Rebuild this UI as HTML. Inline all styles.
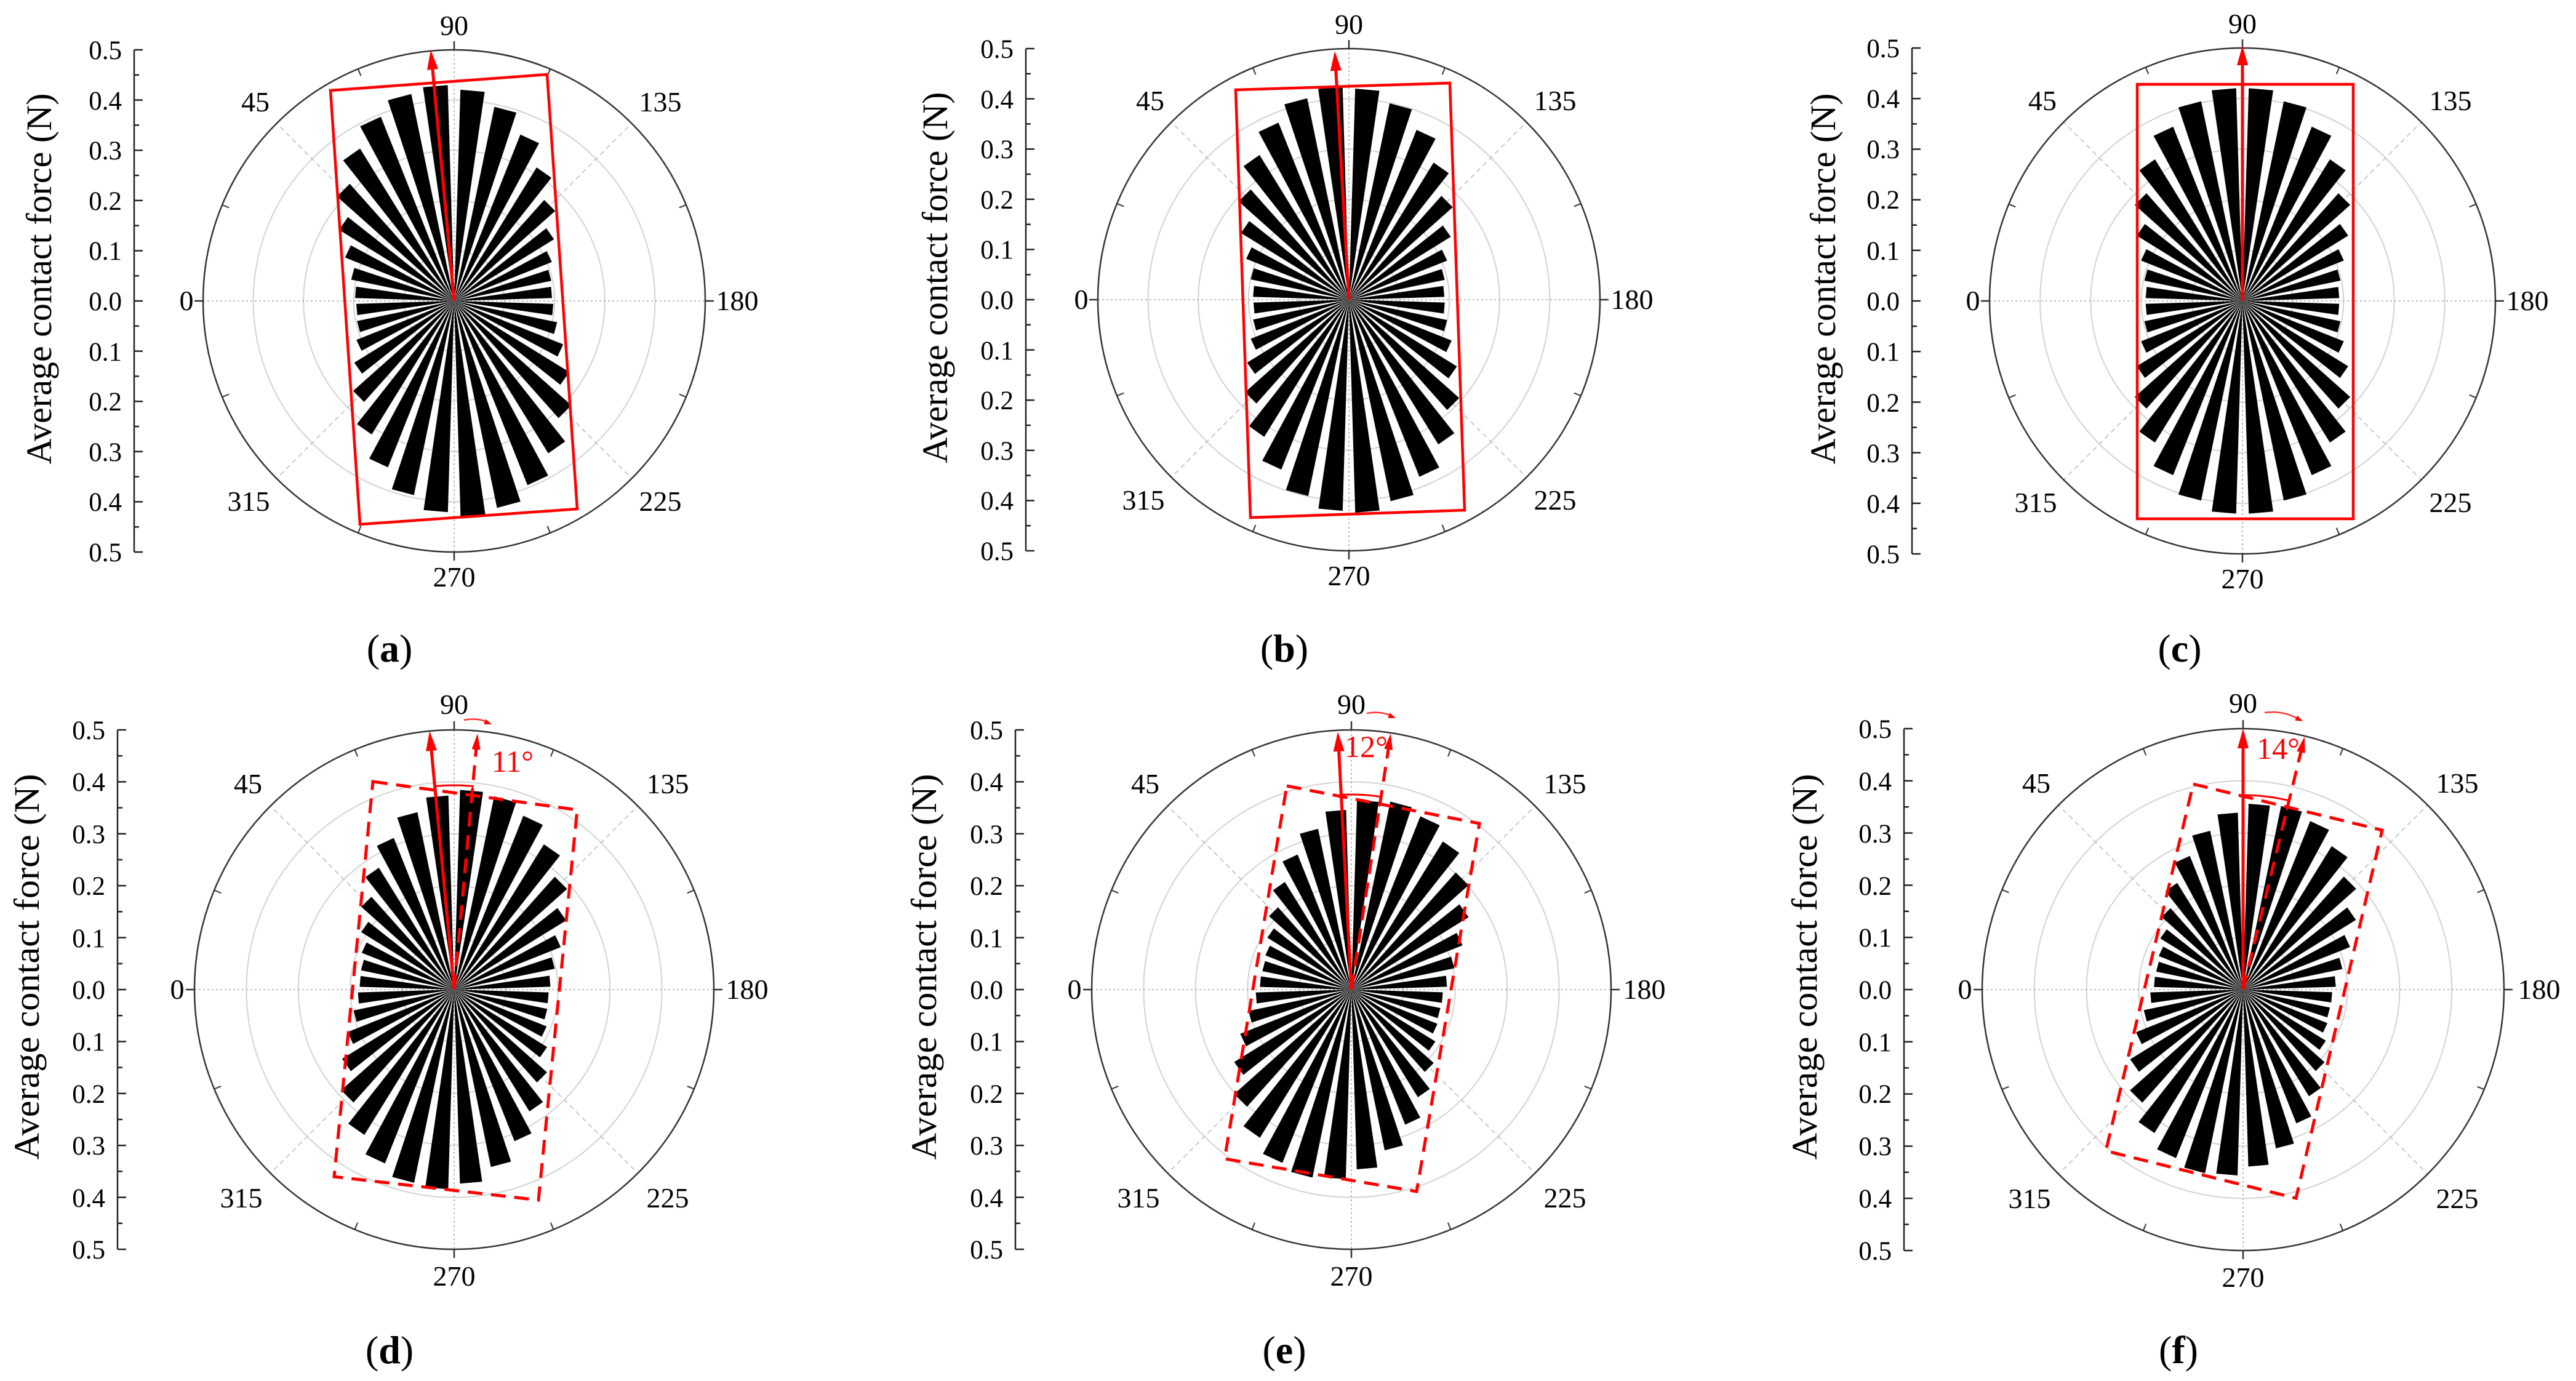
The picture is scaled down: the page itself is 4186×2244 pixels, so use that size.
<!DOCTYPE html>
<html><head><meta charset="utf-8"><style>
html,body{margin:0;padding:0;background:#fff;}
svg{display:block;}
svg text{font-family:"Liberation Serif","DejaVu Serif",serif;fill:#000;}
.t{font-size:43px;text-anchor:end;}
.g{font-size:46px;text-anchor:middle;}
.y{font-size:58px;text-anchor:middle;}
.p{font-size:64px;text-anchor:middle;}
svg text.r{font-size:50px;fill:#f00;}
</style></head><body>
<svg id="s" width="4186" height="2244" viewBox="0 0 4186 2244" xmlns="http://www.w3.org/2000/svg" font-family="Liberation Serif, DejaVu Serif, serif">
<rect width="4186" height="2244" fill="#fff"/>
<g id="shapes"></g>

<!-- Panel a -->
<g transform="translate(738,489)">
<text class="t" x="-540" y="-393">0.5</text><text class="t" x="-540" y="-311">0.4</text><text class="t" x="-540" y="-230">0.3</text><text class="t" x="-540" y="-148">0.2</text><text class="t" x="-540" y="-67">0.1</text><text class="t" x="-540" y="15">0.0</text><text class="t" x="-540" y="97">0.1</text><text class="t" x="-540" y="178">0.2</text><text class="t" x="-540" y="260">0.3</text><text class="t" x="-540" y="341">0.4</text><text class="t" x="-540" y="423">0.5</text>
<text class="y" transform="translate(-655,-36) rotate(-90)" textLength="603" lengthAdjust="spacingAndGlyphs">Average contact force (N)</text>
<text class="g" x="0" y="-432">90</text><text class="g" x="-323" y="-308">45</text><text class="g" x="335" y="-308">135</text><text class="g" x="-435" y="15">0</text><text class="g" x="460" y="15">180</text><text class="g" x="-334" y="341">315</text><text class="g" x="335" y="341">225</text><text class="g" x="0" y="464">270</text>
<text class="p" x="-105" y="586">(<tspan font-weight="bold">a</tspan>)</text>
</g>

<!-- Panel b -->
<g transform="translate(2192,487)">
<text class="t" x="-545" y="-393">0.5</text><text class="t" x="-545" y="-311">0.4</text><text class="t" x="-545" y="-230">0.3</text><text class="t" x="-545" y="-148">0.2</text><text class="t" x="-545" y="-67">0.1</text><text class="t" x="-545" y="15">0.0</text><text class="t" x="-545" y="97">0.1</text><text class="t" x="-545" y="178">0.2</text><text class="t" x="-545" y="260">0.3</text><text class="t" x="-545" y="341">0.4</text><text class="t" x="-545" y="423">0.5</text>
<text class="y" transform="translate(-653,-36) rotate(-90)" textLength="603" lengthAdjust="spacingAndGlyphs">Average contact force (N)</text>
<text class="g" x="0" y="-432">90</text><text class="g" x="-323" y="-308">45</text><text class="g" x="335" y="-308">135</text><text class="g" x="-435" y="15">0</text><text class="g" x="460" y="15">180</text><text class="g" x="-334" y="341">315</text><text class="g" x="335" y="341">225</text><text class="g" x="0" y="464">270</text>
<text class="p" x="-105" y="588">(<tspan font-weight="bold">b</tspan>)</text>
</g>

<!-- Panel c -->
<g transform="translate(3644,489)">
<text class="t" x="-557" y="-396">0.5</text><text class="t" x="-557" y="-314">0.4</text><text class="t" x="-557" y="-232">0.3</text><text class="t" x="-557" y="-150">0.2</text><text class="t" x="-557" y="-67">0.1</text><text class="t" x="-557" y="15">0.0</text><text class="t" x="-557" y="97">0.1</text><text class="t" x="-557" y="180">0.2</text><text class="t" x="-557" y="262">0.3</text><text class="t" x="-557" y="344">0.4</text><text class="t" x="-557" y="426">0.5</text>
<text class="y" transform="translate(-662,-36) rotate(-90)" textLength="603" lengthAdjust="spacingAndGlyphs">Average contact force (N)</text>
<text class="g" x="0" y="-435">90</text><text class="g" x="-325" y="-310">45</text><text class="g" x="338" y="-310">135</text><text class="g" x="-438" y="15">0</text><text class="g" x="463" y="15">180</text><text class="g" x="-336" y="343">315</text><text class="g" x="338" y="343">225</text><text class="g" x="0" y="467">270</text>
<text class="p" x="-102" y="586">(<tspan font-weight="bold">c</tspan>)</text>
</g>

<!-- Panel d -->
<g transform="translate(738,1608)">
<text class="t" x="-567" y="-407">0.5</text><text class="t" x="-567" y="-323">0.4</text><text class="t" x="-567" y="-238">0.3</text><text class="t" x="-567" y="-154">0.2</text><text class="t" x="-567" y="-69">0.1</text><text class="t" x="-567" y="15">0.0</text><text class="t" x="-567" y="99">0.1</text><text class="t" x="-567" y="184">0.2</text><text class="t" x="-567" y="268">0.3</text><text class="t" x="-567" y="353">0.4</text><text class="t" x="-567" y="437">0.5</text>
<text class="y" transform="translate(-675,-37) rotate(-90)" textLength="627" lengthAdjust="spacingAndGlyphs">Average contact force (N)</text>
<text class="g" x="0" y="-448">90</text><text class="g" x="-335" y="-319">45</text><text class="g" x="347" y="-319">135</text><text class="g" x="-450" y="15">0</text><text class="g" x="476" y="15">180</text><text class="g" x="-346" y="354">315</text><text class="g" x="347" y="354">225</text><text class="g" x="0" y="481">270</text>
<text class="r" x="61" y="-354">11°</text>
<text class="p" x="-105" y="607">(<tspan font-weight="bold">d</tspan>)</text>
</g>

<!-- Panel e -->
<g transform="translate(2196,1608)">
<text class="t" x="-566" y="-407">0.5</text><text class="t" x="-566" y="-323">0.4</text><text class="t" x="-566" y="-238">0.3</text><text class="t" x="-566" y="-154">0.2</text><text class="t" x="-566" y="-69">0.1</text><text class="t" x="-566" y="15">0.0</text><text class="t" x="-566" y="99">0.1</text><text class="t" x="-566" y="184">0.2</text><text class="t" x="-566" y="268">0.3</text><text class="t" x="-566" y="353">0.4</text><text class="t" x="-566" y="437">0.5</text>
<text class="y" transform="translate(-675,-37) rotate(-90)" textLength="627" lengthAdjust="spacingAndGlyphs">Average contact force (N)</text>
<text class="g" x="0" y="-448">90</text><text class="g" x="-335" y="-319">45</text><text class="g" x="347" y="-319">135</text><text class="g" x="-450" y="15">0</text><text class="g" x="476" y="15">180</text><text class="g" x="-346" y="354">315</text><text class="g" x="347" y="354">225</text><text class="g" x="0" y="481">270</text>
<text class="r" x="-11" y="-378">12°</text>
<text class="p" x="-109" y="607">(<tspan font-weight="bold">e</tspan>)</text>
</g>

<!-- Panel f -->
<g transform="translate(3645,1608)">
<text class="t" x="-571" y="-409">0.5</text><text class="t" x="-571" y="-324">0.4</text><text class="t" x="-571" y="-239">0.3</text><text class="t" x="-571" y="-154">0.2</text><text class="t" x="-571" y="-70">0.1</text><text class="t" x="-571" y="15">0.0</text><text class="t" x="-571" y="100">0.1</text><text class="t" x="-571" y="184">0.2</text><text class="t" x="-571" y="269">0.3</text><text class="t" x="-571" y="354">0.4</text><text class="t" x="-571" y="439">0.5</text>
<text class="y" transform="translate(-693,-37) rotate(-90)" textLength="627" lengthAdjust="spacingAndGlyphs">Average contact force (N)</text>
<text class="g" x="0" y="-450">90</text><text class="g" x="-336" y="-320">45</text><text class="g" x="348" y="-320">135</text><text class="g" x="-452" y="15">0</text><text class="g" x="481" y="15">180</text><text class="g" x="-347" y="355">315</text><text class="g" x="348" y="355">225</text><text class="g" x="0" y="483">270</text>
<text class="r" x="22" y="-375">14°</text>
<text class="p" x="-105" y="607">(<tspan font-weight="bold">f</tspan>)</text>
</g>
</svg>
<script>
(function(){
var NS="http://www.w3.org/2000/svg",G=document.getElementById("shapes");
function el(n,a){var e=document.createElementNS(NS,n);for(var k in a)e.setAttribute(k,a[k]);G.appendChild(e);return e;}
var D=Math.PI/180;
var P=[
{cx:738,cy:489,R:408,ax:-520,t0:85,A:.43,B:.195,rect:[[537,147],[889,121],[938,827],[585,852]],solid:[700,81]},
{cx:2192,cy:487,R:408,ax:-525,t0:88,A:.425,B:.19,rect:[[2008,146],[2356,135],[2380,829],[2032,841]],solid:[2169,83]},
{cx:3644,cy:489,R:411,ax:-537,t0:90,A:.423,B:.191,rect:[[3473,137],[3824,137],[3824,843],[3473,843]],solid:[3644,74]},
{cx:738,cy:1608,R:422,ax:-547,t0:97,A:.385,B:.182,rect:[[606,1270],[938,1316],[875,1950],[543,1912]],solid:[698,1188],dash:[776,1192],arcR:332,cur:[16,-438,59,-432]},
{cx:2196,cy:1608,R:422,ax:-546,t0:103,A:.37,B:.175,rect:[[2091,1277],[2404,1338],[2302,1936],[1990,1883]],solid:[2174,1189],dash:[2260,1192],arcR:317,cur:[25,-449,70,-442]},
{cx:3645,cy:1608,R:424,ax:-551,t0:102,A:.36,B:.17,rect:[[3564,1274],[3871,1349],[3731,1947],[3422,1870]],solid:[3645,1184],dash:[3745,1197],arcR:316,cur:[35,-450,95,-437]}
];
function pt(p,r,th){return [p.cx-r*Math.cos(th*D),p.cy-r*Math.sin(th*D)];}
function head(tx,ty,fx,fy,L,W){var dx=tx-fx,dy=ty-fy,l=Math.hypot(dx,dy);dx/=l;dy/=l;
 var bx=tx-dx*L,by=ty-dy*L;
 el("polygon",{points:tx+","+ty+" "+(bx-dy*W/2)+","+(by+dx*W/2)+" "+(bx+dy*W/2)+","+(by-dx*W/2),fill:"#f00"});
 return [bx+dx*4,by+dy*4];}
P.forEach(function(p){
 var cx=p.cx,cy=p.cy,R=p.R;
 for(var i=1;i<5;i++)el("circle",{cx:cx,cy:cy,r:R*i/5,fill:"none",stroke:"#d2d2d2","stroke-width":2});
 el("line",{x1:cx-R,y1:cy,x2:cx+R,y2:cy,stroke:"#a8a8a8","stroke-width":1.6,"stroke-dasharray":"3 4"});
 el("line",{x1:cx,y1:cy-R,x2:cx,y2:cy+R,stroke:"#a8a8a8","stroke-width":1.6,"stroke-dasharray":"3 4"});
 [45,135,225,315].forEach(function(a){var q=pt(p,R,a);el("line",{x1:cx,y1:cy,x2:q[0],y2:q[1],stroke:"#bdbdbd","stroke-width":1.6,"stroke-dasharray":"8 6"});});
 el("circle",{cx:cx,cy:cy,r:R,fill:"none",stroke:"#333","stroke-width":2.5});
 [0,90,180,270].forEach(function(a){var q1=pt(p,R,a),q2=pt(p,R+14,a);el("line",{x1:q1[0],y1:q1[1],x2:q2[0],y2:q2[1],stroke:"#333","stroke-width":2.5});});
 for(var a=22.5;a<360;a+=45){var q1=pt(p,R,a),q2=pt(p,R-12,a);el("line",{x1:q1[0],y1:q1[1],x2:q2[0],y2:q2[1],stroke:"#333","stroke-width":2});}
 var X=cx+p.ax;
 el("line",{x1:X,y1:cy-R,x2:X,y2:cy+R,stroke:"#222","stroke-width":2.5});
 for(var j=0;j<=20;j++){var y=cy-R+j*R/10;el("line",{x1:X,y1:y,x2:X+(j%2?8:14),y2:y,stroke:"#222","stroke-width":2.5});}
 var sc=2*R;
 for(var k=0;k<36;k++){var th=5+10*k,c=Math.cos((th-p.t0)*D),r=sc*(p.B+(p.A-p.B)*Math.pow(c*c,1.3));
  var a1=pt(p,r,th-3.3),a2=pt(p,r,th+3.3);
  el("polygon",{points:cx+","+cy+" "+a1[0]+","+a1[1]+" "+a2[0]+","+a2[1],fill:"#000"});}
 var rp=p.rect.map(function(q){return q.join(",");}).join(" ");
 if(p.dash) el("polygon",{points:rp,fill:"none",stroke:"#f00","stroke-width":5,"stroke-dasharray":"24 14"});
 else el("polygon",{points:rp,fill:"none",stroke:"#f00","stroke-width":4.5});
 var b=head(p.solid[0],p.solid[1],cx,cy,32,18);
 el("line",{x1:cx,y1:cy,x2:b[0],y2:b[1],stroke:"#f00","stroke-width":5});
 if(p.dash){
  var b2=head(p.dash[0],p.dash[1],cx,cy,26,14);
  el("line",{x1:cx,y1:cy,x2:b2[0],y2:b2[1],stroke:"#f00","stroke-width":5,"stroke-dasharray":"24 14"});
  var as=Math.atan2(cy-p.solid[1],cx-p.solid[0])/D,ad=Math.atan2(cy-p.dash[1],cx-p.dash[0])/D;
  var s1=pt(p,p.arcR,as),s2=pt(p,p.arcR,ad),s3=pt(p,p.arcR-16,ad);
  el("path",{d:"M"+s1[0]+","+s1[1]+" A"+p.arcR+","+p.arcR+" 0 0 1 "+s2[0]+","+s2[1]+" L"+s3[0]+","+s3[1],fill:"none",stroke:"#f00","stroke-width":3});
  var c=p.cur,x1=cx+c[0],y1=cy+c[1],x2=cx+c[2],y2=cy+c[3];
  el("path",{d:"M"+x1+","+y1+" Q"+((x1+x2)/2)+","+(y1-4)+" "+(x2-6)+","+(y2-3),fill:"none",stroke:"#f33","stroke-width":2.5});
  head(x2+2,y2+1,(x1+x2)/2,y1-2,12,9);
 }
});
})();
</script>
</body></html>
